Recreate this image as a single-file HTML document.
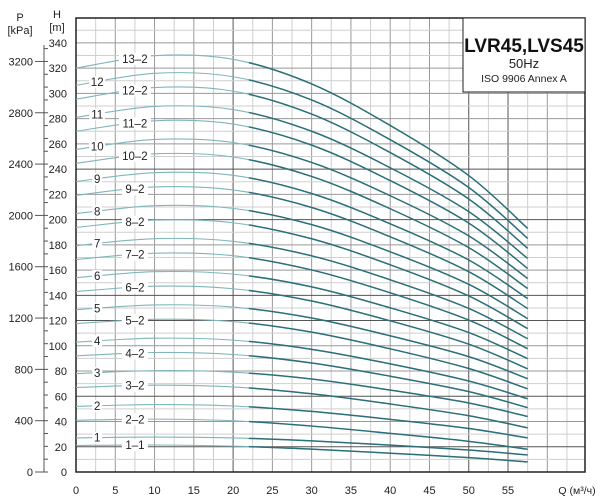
<!DOCTYPE html>
<html><head><meta charset="utf-8">
<style>
body{margin:0;background:#fff;}
svg{display:block;font-family:"Liberation Sans",sans-serif;}
</style></head>
<body>
<svg id="chart" width="600" height="503" viewBox="0 0 600 503">
<g id="grid"></g>
<g id="axes"></g>
<g id="curves"></g>
<g id="labels"></g>
<g>
<rect x="463" y="18" width="122" height="74" fill="#fff" stroke="#222" stroke-width="1"/>
<text x="524" y="52" text-anchor="middle" font-size="19" font-weight="bold" fill="#111">LVR45,LVS45</text>
<text x="524" y="68" text-anchor="middle" font-size="13" fill="#222">50Hz</text>
<text x="524" y="82" text-anchor="middle" font-size="10.5" fill="#222">ISO 9906 Annex A</text>
</g>
</svg>
<script>
const qPoints = [0, 10, 20, 30, 40, 50, 57.5];
const curveNames = ["1–1","1","2–2","2","3–2","3","4–2","4","5–2","5","6–2","6","7–2","7","8–2","8","9–2","9","10–2","10","11–2","11","12–2","12","13–2"];
const c_1_1 = [21,21.4,20.5,18.1,14.9,11.4,8];
const c_1 = [27,27.7,27.0,24.7,21.3,17.4,13.5];
const c_2_2 = [41,41.9,40.6,36.4,30.6,24.3,18];
const c_2 = [52,53.4,52.3,48.0,41.7,34.5,27];
const c_3_2 = [67,68.8,67.4,62.0,53.9,44.6,35];
const c_3 = [78,80.3,79.1,73.7,64.9,54.7,44];
const c_4_2 = [92,94.7,93.1,86.4,75.9,63.7,51];
const c_4 = [103,106.0,104.5,97.2,85.7,72.1,58];
const c_5_2 = [117.6,121.0,119.2,110.8,97.6,82.0,65.9];
const c_5 = [128.6,132.4,130.7,122.0,107.9,91.4,73.9];
const c_6_2 = [143,147.2,145.2,135.5,119.8,101.3,81.8];
const c_6 = [154,158.7,156.8,146.7,130.1,110.5,89.8];
const c_7_2 = [168.4,173.4,171.4,160.1,142.0,120.4,97.7];
const c_7 = [179.4,184.9,182.8,171.3,152.3,129.6,105.6];
const c_8_2 = [193.8,199.6,197.5,184.8,164.2,139.5,113.6];
const c_8 = [204.8,211.0,208.9,196.0,174.5,148.7,121.5];
const c_9_2 = [219.2,225.9,223.5,209.6,186.4,158.7,129.5];
const c_9 = [230.2,237.2,235.1,220.7,196.7,168.0,137.4];
const c_10_2 = [244.6,252.1,249.6,234.2,208.6,177.8,145.4];
const c_10 = [255.6,263.5,261.1,245.3,218.9,187.1,153.3];
const c_11_2 = [270,278.3,275.7,259.0,230.9,197.2,161.3];
const c_11 = [281,289.7,287.2,270.0,241.1,206.3,169.2];
const c_12_2 = [295.4,304.6,301.8,283.6,253.1,216.3,177.2];
const c_12 = [306.4,315.9,313.2,294.8,263.3,225.4,185.1];
const c_13_2 = [320,329.9,327.0,307.5,274.6,234.9,193];
const curveValues = [c_1_1,c_1,c_2_2,c_2,c_3_2,c_3,c_4_2,c_4,c_5_2,c_5,c_6_2,c_6,c_7_2,c_7,c_8_2,c_8,c_9_2,c_9,c_10_2,c_10,c_11_2,c_11,c_12_2,c_12,c_13_2];
const xTicks = [0,5,10,15,20,25,30,35,40,45,50,55];
const hTicks = [0,20,40,60,80,100,120,140,160,180,200,220,240,260,280,300,320,340];
const pTicks = [0,400,800,1200,1600,2000,2400,2800,3200];

const NS = "http://www.w3.org/2000/svg";
const X0 = 76, XR = 585, Y0 = 472, YT = 18;
const xs = q => X0 + q * 7.855;
const ys = h => Y0 - h * 1.262;
const yp = p => Y0 - p * 0.1283;
function mk(tag, attrs, parent){
  const e = document.createElementNS(NS, tag);
  for (const k in attrs) e.setAttribute(k, attrs[k]);
  parent.appendChild(e); return e;
}
const grid = document.getElementById("grid");
const axes = document.getElementById("axes");
const curves = document.getElementById("curves");
const labels = document.getElementById("labels");

for (let q = 2.5; xs(q) < XR - 1; q += 2.5) {
  const major = Math.abs(q % 5) < 0.01;
  const dark = [20, 50, 55].includes(q);
  const l = mk("line", {x1: xs(q), x2: xs(q), y1: YT, y2: Y0, stroke: dark ? "#555" : (major ? "#999" : "#cfcfcf"), "stroke-width": 1}, grid);
  
  
}
for (let h = 10; ys(h) > YT + 1; h += 10) {
  const major = h % 20 === 0;
  const dark = [20, 60, 120, 140, 200, 240].includes(h);
  const l = mk("line", {x1: X0, x2: XR, y1: ys(h), y2: ys(h), stroke: dark ? "#555" : (major ? "#999" : "#cfcfcf"), "stroke-width": 1}, grid);
  
  
}
const fr = mk("path", {d: `M${X0},${YT}H${XR}V${Y0}H${X0}Z`, fill: "none", stroke: "#222", "stroke-width": 1.5}, axes);



xTicks.forEach(q => {
  const t = mk("text", {x: xs(q), y: 494, "text-anchor": "middle", "font-size": 11, fill: "#222"}, axes);
  t.textContent = q;
  
  
});
const xt = mk("text", {x: 577, y: 494, "text-anchor": "middle", "font-size": 10.5, fill: "#222"}, axes);
xt.textContent = "Q (м³/ч)";



hTicks.forEach(h => {
  const t = mk("text", {x: 67, y: ys(h) + 4, "text-anchor": "end", "font-size": 11, fill: "#222"}, axes);
  t.textContent = h;
  
  
});
const pl = mk("line", {x1: 44, x2: 44, y1: 45, y2: Y0, stroke: "#555", "stroke-width": 1}, axes);


for (let p = 0; p <= 3300; p += 100) {
  const l = mk("line", {x1: 44, x2: 48, y1: yp(p), y2: yp(p), stroke: "#555", "stroke-width": 1}, axes);
  
  
}
pTicks.forEach(p => {
  const l = mk("line", {x1: 35, x2: 44, y1: yp(p), y2: yp(p), stroke: "#555", "stroke-width": 1}, axes);
  
  
  const t = mk("text", {x: 33, y: yp(p) + 4, "text-anchor": "end", "font-size": 11, fill: "#222"}, axes);
  t.textContent = p;
  
  
});
[["P",20,21,"p-axis-title"],["[kPa]",20,34,"p-axis-unit"],["H",57,18,"h-axis-title"],["[m]",57,31,"h-axis-unit"]].forEach(a => {
  const t = mk("text", {x: a[1], y: a[2], "text-anchor": "middle", "font-size": 11, fill: "#222"}, axes);
  t.textContent = a[0];
  
  
});

function pathFor(vals) {
  const pts = qPoints.map((q, i) => [xs(q), ys(vals[i])]);
  let d = `M${pts[0][0]},${pts[0][1]}`;
  for (let i = 0; i < pts.length - 1; i++) {
    const p0 = pts[Math.max(0, i - 1)], p1 = pts[i], p2 = pts[i + 1], p3 = pts[Math.min(pts.length - 1, i + 2)];
    const c1 = [p1[0] + (p2[0] - p0[0]) / 6, p1[1] + (p2[1] - p0[1]) / 6];
    const c2 = [p2[0] - (p3[0] - p1[0]) / 6, p2[1] - (p3[1] - p1[1]) / 6];
    d += `C${c1[0]},${c1[1]} ${c2[0]},${c2[1]} ${p2[0]},${p2[1]}`;
  }
  return d;
}
const clip = mk("clipPath", {id: "dutyClip"}, mk("defs", {}, document.getElementById("chart")));
mk("rect", {x: xs(22), y: 0, width: 600, height: 503}, clip);

curveValues.forEach((vals, i) => {
  const d = pathFor(vals);
  const light = mk("path", {d: d, fill: "none", stroke: "#7fb6ba", "stroke-width": 1.1}, curves);
  
  
  const dark = mk("path", {d: d, fill: "none", stroke: "#2b6f78", "stroke-width": 1.5, "clip-path": "url(#dutyClip)"}, curves);
  
  
  const isReduced = curveNames[i].indexOf("–") >= 0;
  const lq = isReduced ? 7.5 : 2.7;
  const lx = xs(lq);
  const ly = ys(vals[0] + (vals[1] - vals[0]) * lq / 10);
  const w = isReduced ? (curveNames[i].length > 3 ? 32 : 26) : (curveNames[i].length > 1 ? 16 : 10);
  const bg = mk("rect", {x: lx - w / 2, y: ly - 6, width: w, height: 12, fill: "#fff"}, labels);
  
  
  const t = mk("text", {x: lx, y: ly + 4, "text-anchor": "middle", "font-size": 11.5, fill: "#222"}, labels);
  t.textContent = curveNames[i];
  
  
});
</script>
</body></html>
